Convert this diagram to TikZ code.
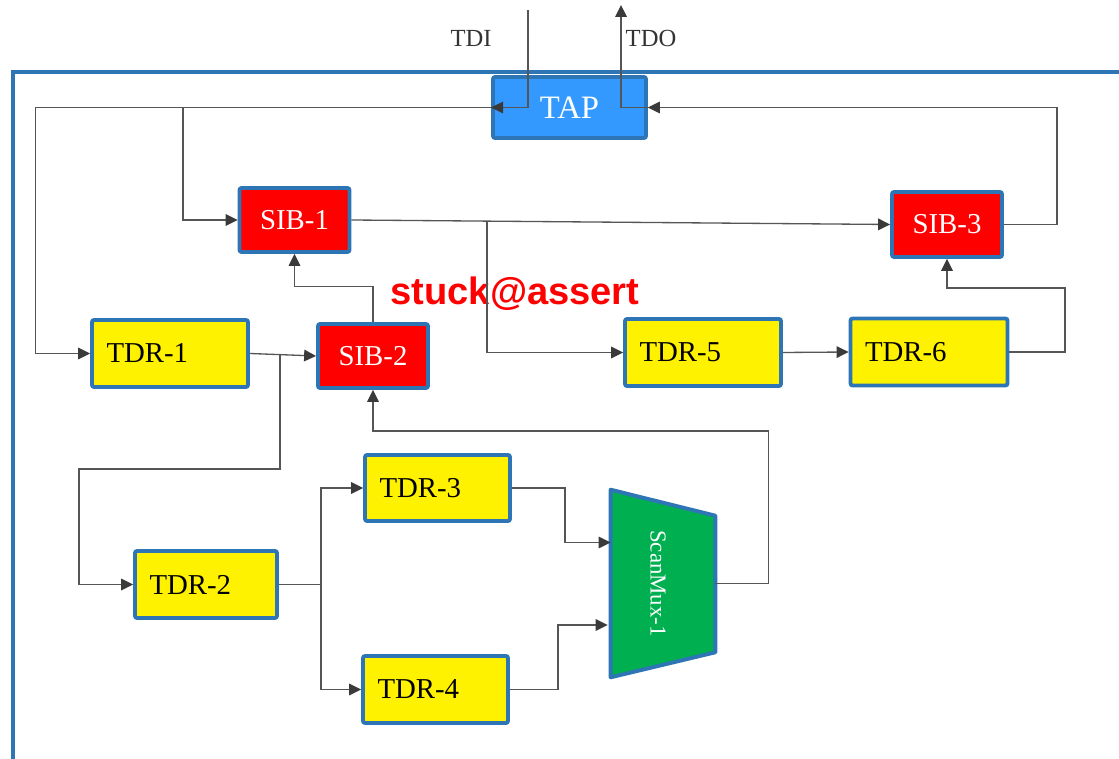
\documentclass[tikz,border=0pt]{standalone}
\usepackage{fontspec}
\setmainfont{Liberation Serif}
\newfontfamily\serifface{Liberation Serif}
\newfontfamily\labelsans{Liberation Sans}
\usetikzlibrary{arrows.meta,calc}

\definecolor{bordblue}{HTML}{2E75B6}
\definecolor{tapblue}{HTML}{3399FF}
\definecolor{muxgreen}{HTML}{00B050}
\definecolor{wire}{HTML}{555555}
\definecolor{tipgray}{HTML}{3A3A3A}
\definecolor{labelgray}{HTML}{333333}

% left-set register name inside a block of fixed inner width
\newcommand\regname[2]{\makebox[#1][l]{#2}}

\tikzset{
  box/.style={draw=bordblue, line width=2.2pt, rounded corners=1.2pt, inner sep=0pt},
  tapbox/.style={box, fill=tapblue, text=white, minimum width=3.06cm, minimum height=1.22cm,
    font=\serifface\fontsize{18.6}{20}\selectfont},
  sib/.style={box, fill=red, text=white, minimum width=2.2cm, minimum height=1.28cm,
    font=\serifface\fontsize{16.4}{18}\selectfont},
  tdr/.style={box, fill=yellow, text=black, inner xsep=0.29cm, inner ysep=0pt,
    minimum height=1.34cm, font=\serifface\fontsize{16.4}{18}\selectfont},
  muxbox/.style={inner sep=0pt, minimum width=2.08cm, minimum height=3.74cm, text=white,
    font=\serifface\fontsize{13}{15}\selectfont},
  muxshape/.style={draw=bordblue, fill=muxgreen, line width=2.2pt, line join=round},
  frame/.style={draw=bordblue, line width=2.3pt},
  pinlabel/.style={text=labelgray, font=\serifface\fontsize{14}{16}\selectfont},
  fault/.style={text=red, font=\labelsans\bfseries\fontsize{21.7}{24}\selectfont},
  conn/.style={draw=wire, line width=0.75pt},
  arr/.style={conn, -{Triangle[length=6.8pt,width=6.6pt,color=tipgray]}},
}

\begin{document}
\begin{tikzpicture}[x=0.02cm, y=-0.02cm]
  \useasboundingbox (0,0) rectangle (1119,759);

  % chip boundary
  \draw[frame] (1125,72) -- (13,72) -- (13,765);

  % blocks
  \node[tapbox] (tap) at (569.5,107.5) {TAP};
  \node[sib] (sib1) at (294.5,220) {SIB-1};
  \node[sib] (sib2) at (373,356) {SIB-2};
  \node[sib, minimum height=1.30cm] (sib3) at (947,224.5) {SIB-3};
  \node[tdr] (tdr1) at (170,353.5) {\regname{2.54cm}{TDR-1}};
  \node[tdr] (tdr5) at (703,352.5) {\regname{2.54cm}{TDR-5}};
  \node[tdr] (tdr6) at (929,352) {\regname{2.56cm}{TDR-6}};
  \node[tdr, minimum height=1.32cm] (tdr3) at (437.5,488) {\regname{2.32cm}{TDR-3}};
  \node[tdr] (tdr2) at (206,584.5) {\regname{2.26cm}{TDR-2}};
  \node[tdr] (tdr4) at (435.5,689.5) {\regname{2.32cm}{TDR-4}};

  % scan multiplexer
  \node[muxbox] (mux) at (663,583.5) {};
  \draw[muxshape] (mux.north west) -- ($(mux.north east)+(0,26)$)
    -- ($(mux.south east)+(0,-25)$) -- (mux.south west) -- cycle;
  \node[muxbox, text=white] (muxlbl) at (658,583.5) {\rotatebox{-90}{ScanMux-1}};

  % pins
  \coordinate (tdi) at (528,10);
  \coordinate (tdo) at (621,5);
  \node[pinlabel] (tdilbl) at (471,38) {TDI};
  \node[pinlabel] (tdolbl) at (651,38) {TDO};

  \node[fault, anchor=base] (stuck) at (515,305) {stuck@assert};

  % junctions
  \coordinate (j1) at (183,107.5);
  \coordinate (j2) at (487,221);
  \coordinate (j3) at (280,354.5);
  \coordinate (j4) at (321,584.5);

  % TDI / TDO
  \draw[arr] (tdi) |- (tap.west);
  \draw[arr] (tap.east) -| (tdo);

  % scan network
  \draw[arr] (tap.west) -- ++(-455.5,0) |- (tdr1.west);
  \draw[arr] (j1) |- (sib1.west);
  \draw[arr] (sib1.east) -- (sib3.west);
  \draw[arr] (j2) |- (tdr5.west);
  \draw[arr] (tdr5.east) -- (tdr6.west);
  \draw[arr] (tdr6.east) -| (1065,288) -| (sib3.south);
  \draw[arr] (sib3.east) -- ++(53,0) |- (tap.east);
  \draw[arr] (tdr1.east) -- (sib2.west);
  \draw[arr] (sib2.north) -- ++(0,-35.5) -| (sib1.south);
  \draw[arr] (j3) |- (79,469) |- (tdr2.west);
  \draw[conn] (tdr2.east) -- (j4);
  \draw[arr] (j4) |- (tdr3.west);
  \draw[arr] (j4) |- (tdr4.west);
  \draw[arr] (tdr3.east) -- ++(53,0) |- ($(mux.west)+(0,-41)$);
  \draw[arr] (tdr4.east) -- ++(48,0) |- ($(mux.west)+(-3,41.5)$);
  \draw[arr] (mux.east) -- ++(53,0) |- ($(sib2.south)+(0,41)$) -- (sib2.south);
\end{tikzpicture}
\end{document}
